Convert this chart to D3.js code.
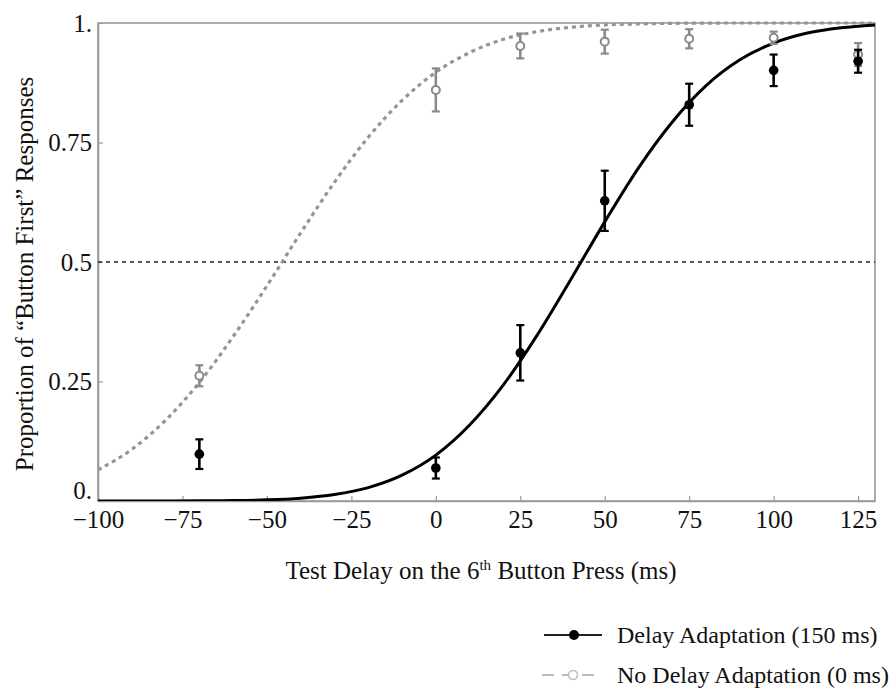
<!DOCTYPE html>
<html><head><meta charset="utf-8">
<script src="https://cdn.jsdelivr.net/npm/d3@7"></script>
<style>body{margin:0;background:#fff}svg{display:block}svg text{font-family:"Liberation Serif","Tinos","Times New Roman","DejaVu Serif",serif;fill:#111}</style>
</head><body>
<script>
// Data
const delays = [-70, 0, 25, 50, 75, 100, 125];
const adaptMean = [0.098, 0.069, 0.310, 0.628, 0.829, 0.901, 0.920];
const adaptErr  = [0.031, 0.022, 0.058, 0.063, 0.044, 0.033, 0.024];
const noAdaptMean = [0.262, 0.860, 0.952, 0.961, 0.967, 0.969, 0.934];
const noAdaptErr  = [0.022, 0.045, 0.026, 0.025, 0.020, 0.013, 0.024];
// Fitted psychometric curves, every 10 ms
const curveX = [-100,-90,-80,-70,-60,-50,-40,-30,-20,-10,0,10,20,30,40,50,60,70,80,90,100,110,120,130];
const adaptFit = [0.000,0.000,0.0001,0.0003,0.0009,0.0024,0.006,0.0135,0.028,0.054,0.096,0.159,0.243,0.347,0.464,0.584,0.697,0.793,0.869,0.923,0.958,0.979,0.990,0.996];
const noAdaptFit = [0.065,0.108,0.169,0.248,0.344,0.450,0.561,0.667,0.761,0.838,0.897,0.938,0.966,0.982,0.991,0.996,0.998,0.9993,0.9998,1,1,1,1,1];
const xTicks = [-100,-75,-50,-25,0,25,50,75,100,125];
const yTicks = [0, 0.25, 0.5, 0.75, 1];
const yTickLabels = ["0.", "0.25", "0.5", "0.75", "1."];
const legendLabels = ["Delay Adaptation (150 ms)", "No Delay Adaptation (0 ms)"];

const W = 889, H = 688;
const svg = d3.select("body").append("svg").attr("width", W).attr("height", H);
const x = d3.scaleLinear().domain([-100, 130]).range([98, 875]);
const y = d3.scaleLinear().domain([0, 1]).range([501, 23]);

const frameColor = "#9a9a9a";
const serif = "Liberation Serif, Tinos, Times New Roman, DejaVu Serif, serif";
// frame
svg.append("rect").attr("x", x(-100)).attr("y", y(1)).attr("width", x(130) - x(-100)).attr("height", y(0) - y(1))
  .attr("fill", "none").attr("stroke", frameColor).attr("stroke-width", 1.6);

// axes
const xAxis = d3.axisBottom(x).tickValues(xTicks).tickSizeInner(-5).tickSizeOuter(0)
  .tickFormat(d => d < 0 ? "\u2212" + Math.abs(d) : String(d)).tickPadding(9);
const gx = svg.append("g").attr("transform", `translate(0,${y(0)})`).call(xAxis).attr("font-family", serif);
gx.select(".domain").attr("stroke", frameColor).attr("stroke-width", 1.6);
gx.selectAll(".tick line").attr("stroke", frameColor).attr("stroke-width", 1.2);
gx.selectAll(".tick text").attr("font-size", 25).attr("fill", "#111");

const yAxis = d3.axisLeft(y).tickValues(yTicks).tickSizeInner(-5).tickSizeOuter(0)
  .tickFormat((d, i) => yTickLabels[i]).tickPadding(6);
const gy = svg.append("g").attr("transform", `translate(${x(-100)},0)`).call(yAxis).attr("font-family", serif);
gy.select(".domain").attr("stroke", frameColor).attr("stroke-width", 1.6);
gy.selectAll(".tick line").attr("stroke", frameColor).attr("stroke-width", 1.2);
gy.selectAll(".tick text").attr("font-size", 25).attr("fill", "#111").attr("dy", (d) => d === 0 ? "-0.12em" : "0.32em");

// 0.5 reference line
svg.append("line").attr("x1", x(-100)).attr("x2", x(130)).attr("y1", y(0.5)).attr("y2", y(0.5))
  .attr("stroke", "#222").attr("stroke-width", 1.3).attr("stroke-dasharray", "4,4");

// clip
svg.append("clipPath").attr("id", "clip").append("rect")
  .attr("x", x(-100)).attr("y", y(1) - 2).attr("width", x(130) - x(-100)).attr("height", y(0) - y(1) + 2);

const line = d3.line().x(d => x(d[0])).y(d => y(d[1])).curve(d3.curveMonotoneX);
const plot = svg.append("g").attr("clip-path", "url(#clip)");
plot.append("path").attr("d", line(curveX.map((v, i) => [v, noAdaptFit[i]])))
  .attr("fill", "none").attr("stroke", "#959595").attr("stroke-width", 3.2).attr("stroke-dasharray", "4,4");
plot.append("path").attr("d", line(curveX.map((v, i) => [v, adaptFit[i]])))
  .attr("fill", "none").attr("stroke", "#000").attr("stroke-width", 3);

function errorBars(means, errs, color, filled) {
  const g = svg.append("g");
  delays.forEach((d, i) => {
    const cx = x(d), lo = y(means[i] - errs[i]), hi = y(means[i] + errs[i]);
    g.append("line").attr("x1", cx).attr("x2", cx).attr("y1", lo).attr("y2", hi).attr("stroke", color).attr("stroke-width", 2.6);
    [lo, hi].forEach(yy => g.append("line").attr("x1", cx - 4).attr("x2", cx + 4).attr("y1", yy).attr("y2", yy).attr("stroke", color).attr("stroke-width", 2.2));
    g.append("circle").attr("cx", cx).attr("cy", y(means[i])).attr("r", filled ? 4.8 : 4)
      .attr("fill", filled ? color : "#fff").attr("stroke", color).attr("stroke-width", filled ? 0 : 2);
  });
}
errorBars(noAdaptMean, noAdaptErr, "#8a8a8a", false);
errorBars(adaptMean, adaptErr, "#000", true);

// axis titles
svg.append("text").attr("transform", `translate(33,${y(0.5) + 12}) rotate(-90)`).attr("text-anchor", "middle")
  .attr("font-family", serif).attr("font-size", 25).text("Proportion of \u201CButton First\u201D Responses");
const xt = svg.append("text").attr("x", 481).attr("y", 579).attr("text-anchor", "middle").attr("font-family", serif).attr("font-size", 25);
xt.append("tspan").text("Test Delay on the 6");
xt.append("tspan").attr("dy", -9).attr("font-size", 15).text("th");
xt.append("tspan").attr("dy", 9).text(" Button Press (ms)");

// legend
const lg = svg.append("g").attr("font-family", serif);
lg.append("line").attr("x1", 544).attr("x2", 602).attr("y1", 635).attr("y2", 635).attr("stroke", "#222").attr("stroke-width", 2.2);
lg.append("circle").attr("cx", 574).attr("cy", 635).attr("r", 5).attr("fill", "#000");
lg.append("text").attr("x", 617).attr("y", 643).attr("font-size", 24).text(legendLabels[0]);
lg.append("line").attr("x1", 542).attr("x2", 602).attr("y1", 675).attr("y2", 675).attr("stroke", "#bdbdbd").attr("stroke-width", 2.2).attr("stroke-dasharray", "12,8");
lg.append("circle").attr("cx", 573).attr("cy", 675).attr("r", 4.5).attr("fill", "#fff").attr("stroke", "#bdbdbd").attr("stroke-width", 1.6);
lg.append("text").attr("x", 617).attr("y", 683).attr("font-size", 24).text(legendLabels[1]);
</script>
</body></html>
